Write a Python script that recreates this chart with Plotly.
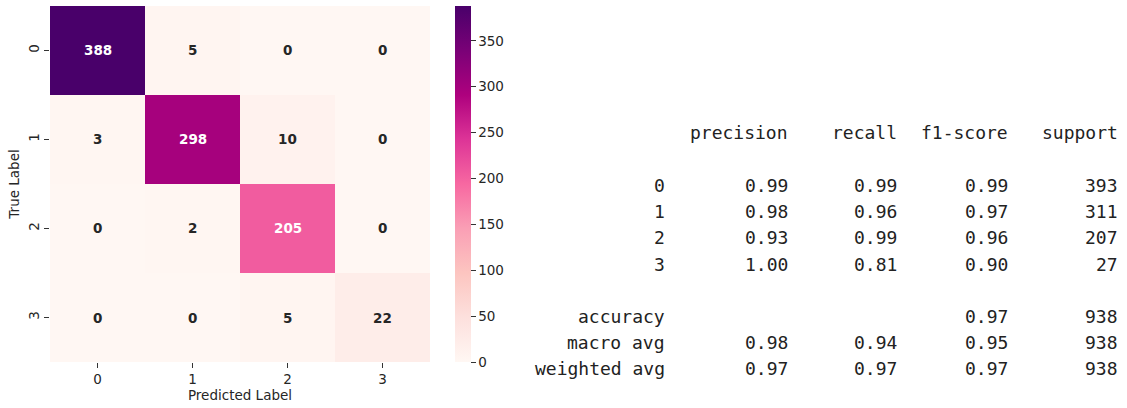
import plotly.graph_objects as go
from plotly.colors import sample_colorscale, unlabel_rgb

# ---------------- data ----------------
class_labels = ["0", "1", "2", "3"]
confusion = [
    [388, 5, 0, 0],
    [3, 298, 10, 0],
    [0, 2, 205, 0],
    [0, 0, 5, 22],
]
precision = [0.99, 0.98, 0.93, 1.00]
recall = [0.99, 0.96, 0.99, 0.81]
f1_score = [0.99, 0.97, 0.96, 0.90]
support = [393, 311, 207, 27]
accuracy = 0.97
total_support = 938
macro_avg = [0.98, 0.94, 0.95]
weighted_avg = [0.97, 0.97, 0.97]
report_headers = ["precision", "recall", "f1-score", "support"]
colorbar_ticks = [0, 50, 100, 150, 200, 250, 300, 350]

W, H = 1127, 408
zmax = max(max(r) for r in confusion)


def px(x):
    return x / W


def py(y):
    return 1 - y / H


fig = go.Figure()
fig.add_trace(go.Heatmap(
    z=confusion,
    x=class_labels,
    y=class_labels,
    colorscale="RdPu",
    zmin=0,
    zmax=zmax,
    hoverinfo="z",
    colorbar=dict(
        x=px(455), xanchor="left", xref="paper",
        y=py(184), yanchor="middle", yref="paper",
        len=356, lenmode="pixels",
        thickness=16, thicknessmode="pixels",
        xpad=0, ypad=0,
        outlinewidth=0,
        ticks="outside", ticklen=5, tickwidth=1, tickcolor="#333333",
        tickvals=colorbar_ticks,
        tickfont=dict(family="DejaVu Sans", size=13.5, color="#262626"),
    ),
))


def rel_lum(rgb):
    vals = []
    for c in rgb:
        c = c / 255.0
        vals.append(c / 12.92 if c <= 0.03928 else ((c + 0.055) / 1.055) ** 2.4)
    return 0.2126 * vals[0] + 0.7152 * vals[1] + 0.0722 * vals[2]


annotations = []
for i, row in enumerate(confusion):
    for j, v in enumerate(row):
        col = sample_colorscale("RdPu", [v / zmax])[0]
        lum = rel_lum(unlabel_rgb(col))
        tcolor = "#262626" if lum > 0.408 else "white"
        annotations.append(dict(
            x=class_labels[j], y=class_labels[i], xref="x", yref="y",
            text=f"<b>{v}</b>", showarrow=False,
            font=dict(family="DejaVu Sans", size=13.5, color=tcolor),
        ))

# ---------------- classification report text ----------------
mono = dict(family="DejaVu Sans Mono", size=18, color="#222222")
col_right = [667, 790, 899, 1010, 1120]
row_y0 = 133
row_step = 26.2


def add_text(text, col, line):
    annotations.append(dict(
        x=px(col_right[col]), y=py(row_y0 + line * row_step),
        xref="paper", yref="paper", xanchor="right", yanchor="middle",
        text=text, showarrow=False, font=mono,
    ))


for k, h in enumerate(report_headers):
    add_text(h, k + 1, 0)
for i, lab in enumerate(class_labels):
    line = 2 + i
    add_text(lab, 0, line)
    add_text(f"{precision[i]:.2f}", 1, line)
    add_text(f"{recall[i]:.2f}", 2, line)
    add_text(f"{f1_score[i]:.2f}", 3, line)
    add_text(f"{support[i]}", 4, line)

add_text("accuracy", 0, 7)
add_text(f"{accuracy:.2f}", 3, 7)
add_text(f"{total_support}", 4, 7)
for line, name, vals in [(8, "macro avg", macro_avg), (9, "weighted avg", weighted_avg)]:
    add_text(name, 0, line)
    for k, v in enumerate(vals):
        add_text(f"{v:.2f}", k + 1, line)
    add_text(f"{total_support}", 4, line)

axis_font = dict(family="DejaVu Sans", size=13.5, color="#262626")

fig.update_layout(
    width=W, height=H,
    margin=dict(l=0, r=0, t=0, b=0),
    paper_bgcolor="white",
    plot_bgcolor="white",
    annotations=annotations,
    xaxis=dict(
        domain=[px(50), px(430)],
        type="category",
        ticks="outside", ticklen=5, tickcolor="#333333",
        tickfont=axis_font,
        showgrid=False, zeroline=False, showline=False,
        title=dict(text="Predicted Label", font=axis_font, standoff=4),
        automargin=False,
    ),
    yaxis=dict(
        domain=[py(362), py(6)],
        type="category",
        autorange="reversed",
        ticks="outside", ticklen=5, tickcolor="#333333",
        tickangle=-90,
        tickfont=axis_font,
        showgrid=False, zeroline=False, showline=False,
        title=dict(text="True Label", font=axis_font, standoff=2),
        automargin=False,
    ),
)

fig.write_html(
    "out.html",
    config={"displayModeBar": False},
    post_script="document.body.style.margin='0';document.body.style.overflow='hidden';",
)
